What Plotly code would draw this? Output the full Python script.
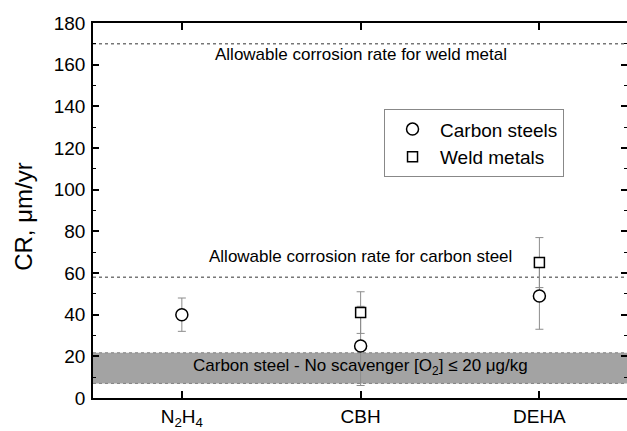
import plotly.graph_objects as go

categories = ["N<sub>2</sub>H<sub>4</sub>", "CBH", "DEHA"]
cat_pos = [0, 1, 2]

carbon_cr = [40, 25, 49]
carbon_err_plus = [8, 19, 16]
carbon_err_minus = [8, 19, 16]

weld_cr = [None, 41, 65]
weld_err_plus = [0, 10, 12]
weld_err_minus = [0, 10, 12]

weld_limit = 170
carbon_limit = 58
band_low, band_high = 7, 21.7

yticks = [0, 20, 40, 60, 80, 100, 120, 140, 160, 180]

FONT = "Arial, Liberation Sans, sans-serif"

fig = go.Figure()

fig.add_trace(go.Scatter(
    x=cat_pos, y=carbon_cr, mode="markers", name="Carbon steels",
    marker=dict(symbol="circle", size=12, color="white",
                line=dict(color="black", width=1.5)),
    error_y=dict(type="data", array=carbon_err_plus, arrayminus=carbon_err_minus,
                 color="#8c8c8c", thickness=1, width=4),
))
fig.add_trace(go.Scatter(
    x=cat_pos, y=weld_cr, mode="markers", name="Weld metals",
    marker=dict(symbol="square", size=10, color="white",
                line=dict(color="black", width=1.5)),
    error_y=dict(type="data", array=weld_err_plus, arrayminus=weld_err_minus,
                 color="#8c8c8c", thickness=1, width=4),
))

# band
fig.add_shape(type="rect", xref="paper", yref="y", x0=0, x1=1, y0=band_low, y1=band_high,
              fillcolor="#a3a3a3", line=dict(width=0), layer="below")
for yv in (band_low, band_high):
    fig.add_shape(type="line", xref="paper", yref="y", x0=0, x1=1, y0=yv, y1=yv,
                  line=dict(color="#808080", width=1, dash="dot"), layer="below")
for yv in (weld_limit, carbon_limit):
    fig.add_shape(type="line", xref="paper", yref="y", x0=0, x1=1, y0=yv, y1=yv,
                  line=dict(color="#333333", width=1, dash="dot"), layer="below")

fig.add_annotation(x=1, y=165, xref="x", yref="y", showarrow=False,
                   text="Allowable corrosion rate for weld metal",
                   font=dict(size=17, color="black", family=FONT))
fig.add_annotation(x=1, y=68, xref="x", yref="y", showarrow=False,
                   text="Allowable corrosion rate for carbon steel",
                   font=dict(size=17, color="black", family=FONT))
fig.add_annotation(x=1, y=15, xref="x", yref="y", showarrow=False,
                   text="Carbon steel - No scavenger [O<sub>2</sub>] \u2264 20 \u03bcg/kg",
                   font=dict(size=17, color="black", family=FONT))
fig.add_annotation(x=-0.129, y=0.4835, xref="paper", yref="paper", showarrow=False,
                   xanchor="center", yanchor="middle",
                   text="CR, \u03bcm/yr", textangle=-90,
                   font=dict(size=24, color="black", family=FONT))

fig.update_layout(
    width=627, height=431,
    margin=dict(l=93, r=0, t=23, b=33, autoexpand=False),
    paper_bgcolor="white", plot_bgcolor="white",
    font=dict(family=FONT, color="black", size=19),
    showlegend=True,
    legend=dict(x=0.545, y=0.77, xanchor="left", yanchor="top",
                bordercolor="#888888", borderwidth=1, bgcolor="white",
                font=dict(size=19, family=FONT), itemwidth=45,
                tracegroupgap=0),
    xaxis=dict(range=[-0.497, 2.49], tickvals=cat_pos, ticktext=categories,
               showline=True, linecolor="black", linewidth=1.5, mirror="ticks",
               ticks="inside", ticklen=7, tickcolor="black", tickwidth=1.5,
               showgrid=False, zeroline=False, ticklabelstandoff=0, automargin=False,
               tickfont=dict(size=19, family=FONT)),
    yaxis=dict(range=[0, 180], tickvals=yticks,
               showline=True, linecolor="black", linewidth=1.5, mirror="ticks",
               ticks="inside", ticklen=6, tickcolor="black", tickwidth=1.5,
               minor=dict(dtick=10, ticks="inside", ticklen=3, tickcolor="black", tickwidth=1),
               showgrid=False, zeroline=False, ticklabelstandoff=2, automargin=False,
               tickfont=dict(size=19, family=FONT)),
)

fig.write_html("out.html")
